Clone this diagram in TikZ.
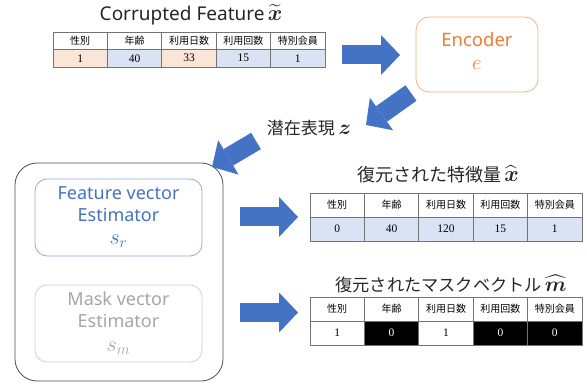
\RequirePackage{fix-cm}
\documentclass[tikz,border=0pt]{standalone}
\usepackage{amsmath}
\usepackage{fontspec}
\newfontfamily\jp{Noto Sans CJK JP}
\newfontfamily\lat{Noto Sans}
\newfontfamily\zahl{Liberation Serif}
\usetikzlibrary{arrows.meta}

\definecolor{pfeilblau}{HTML}{4472C4}
\definecolor{enkorange}{HTML}{ED7D31}
\definecolor{enkrand}{HTML}{F4B183}
\definecolor{blaurand}{HTML}{8FAADC}
\definecolor{grautext}{HTML}{A6A6A6}
\definecolor{graurand}{HTML}{D0D0D0}
\definecolor{pfirsich}{HTML}{FBE5D6}
\definecolor{hellblau}{HTML}{DAE3F3}

% Mathe etwas groesser
\newcommand{\gross}[2][22]{{\fontsize{#1}{#1}\selectfont$#2$}}

\tikzset{
  zelle/.style={draw=black!55, line width=0.7pt, minimum width=54.4pt, inner sep=0pt},
  kopf/.style={zelle, font=\jp\fontsize{10}{12}\selectfont},
  wert/.style={zelle, font=\zahl\fontsize{11.5}{13}\selectfont},
  titel/.style={font=\jp\fontsize{18}{22}\selectfont, text=black!85},
  blockpfeil/.style={draw=pfeilblau, line width=19pt,
    -{Triangle[length=19pt, width=40pt, line width=0pt]}},
  kasten/.style={rounded corners=12pt, line width=0.8pt, minimum width=167pt, minimum height=77pt},
}

\begin{document}
\begin{tikzpicture}[x=1pt, y=-1pt]
  \useasboundingbox (0,0) rectangle (587,385);

  % Eingabe
  \node[titel, font=\lat\fontsize{19}{22}\selectfont] (titel-ein) at (191,15) {Corrupted Feature\,\gross{\widetilde{\boldsymbol{x}}}};
  \foreach \t [count=\i] in {性別,年齢,利用日数,利用回数,特別会員}
    \node[kopf, minimum height=17.5pt] (ein-k\i) at ({53+54.4*(\i-0.5)}, 40.75) {\t};
  \foreach \v/\f [count=\i] in {1/pfirsich,40/hellblau,33/pfirsich,15/hellblau,1/hellblau}
    \node[wert, fill=\f, minimum height=17.5pt] (ein-w\i) at ({53+54.4*(\i-0.5)}, 58.25) {\v};

  % Encoder
  \node[draw=enkrand, line width=0.8pt, rounded corners=13pt, minimum width=122pt, minimum height=75pt] (encoder) at (477,54.5) {};
  \node[font=\lat\fontsize{18.5}{22}\selectfont, text=enkorange] (enc-name) at (477,40) {Encoder};
  \node[text=enkorange] (enc-e) at (477,65) {\gross[21]{e}};

  % Latent
  \node[titel, font=\jp\fontsize{17}{20}\selectfont] (latent) at (309,128) {潜在表現 \gross[21]{\boldsymbol{z}}};

  % Schaetzer
  \node[draw=black!70, line width=0.8pt, rounded corners=22pt, minimum width=208pt, minimum height=218pt] (schaetzer) at (119,272) {};
  \node[kasten, draw=blaurand] (feat) at (118.5,217.5) {};
  \node[text=pfeilblau, align=center, font=\lat\fontsize{18}{22}\selectfont] (feat-name) at (118.5,204) {Feature vector\\Estimator};
  \node[text=pfeilblau] (feat-s) at (118.5,241) {\gross{s_r}};
  \node[kasten, draw=graurand] (mask) at (118.5,323.5) {};
  \node[text=grautext, align=center, font=\lat\fontsize{18}{22}\selectfont] (mask-name) at (118.5,309.5) {Mask vector\\Estimator};
  \node[text=grautext] (mask-s) at (118.5,348) {\gross{s_m}};

  % Rekonstruktion
  \node[titel] (titel-rek) at (438,174) {復元された特徴量\,\gross{\widehat{\boldsymbol{x}}}};
  \foreach \t [count=\i] in {性別,年齢,利用日数,利用回数,特別会員}
    \node[kopf, minimum height=24pt] (rek-k\i) at ({310+54.4*(\i-0.5)}, 205) {\t};
  \foreach \v [count=\i] in {0,40,120,15,1}
    \node[wert, fill=hellblau, minimum height=24pt] (rek-w\i) at ({310+54.4*(\i-0.5)}, 229) {\v};

  % Maske
  \node[titel, font=\jp\fontsize{17.2}{22}\selectfont] (titel-mask) at (451,284) {復元されたマスクベクトル\,\gross[21]{\widehat{\boldsymbol{m}}}};
  \foreach \t [count=\i] in {性別,年齢,利用日数,利用回数,特別会員}
    \node[kopf, minimum height=24pt] (msk-k\i) at ({310+54.4*(\i-0.5)}, 309) {\t};
  \foreach \v/\f/\c [count=\i] in {1/white/black,0/black/white,1/white/black,0/black/white,0/black/white}
    \node[wert, fill=\f, text=\c, minimum height=24pt] (msk-w\i) at ({310+54.4*(\i-0.5)}, 333) {\v};

  % Pfeile
  \coordinate (p1a) at (342,55);  \coordinate (p1b) at (400,55);
  \coordinate (p2a) at (411,93);  \coordinate (p2b) at (366,125);
  \coordinate (p3a) at (256,141); \coordinate (p3b) at (212,167);
  \coordinate (p4a) at (240,217); \coordinate (p4b) at (298,217);
  \coordinate (p5a) at (240,312.5); \coordinate (p5b) at (298,312.5);
  \foreach \a/\b in {p1a/p1b,p2a/p2b,p3a/p3b,p4a/p4b,p5a/p5b}
    \draw[blockpfeil] (\a) -- (\b);
\end{tikzpicture}
\end{document}
